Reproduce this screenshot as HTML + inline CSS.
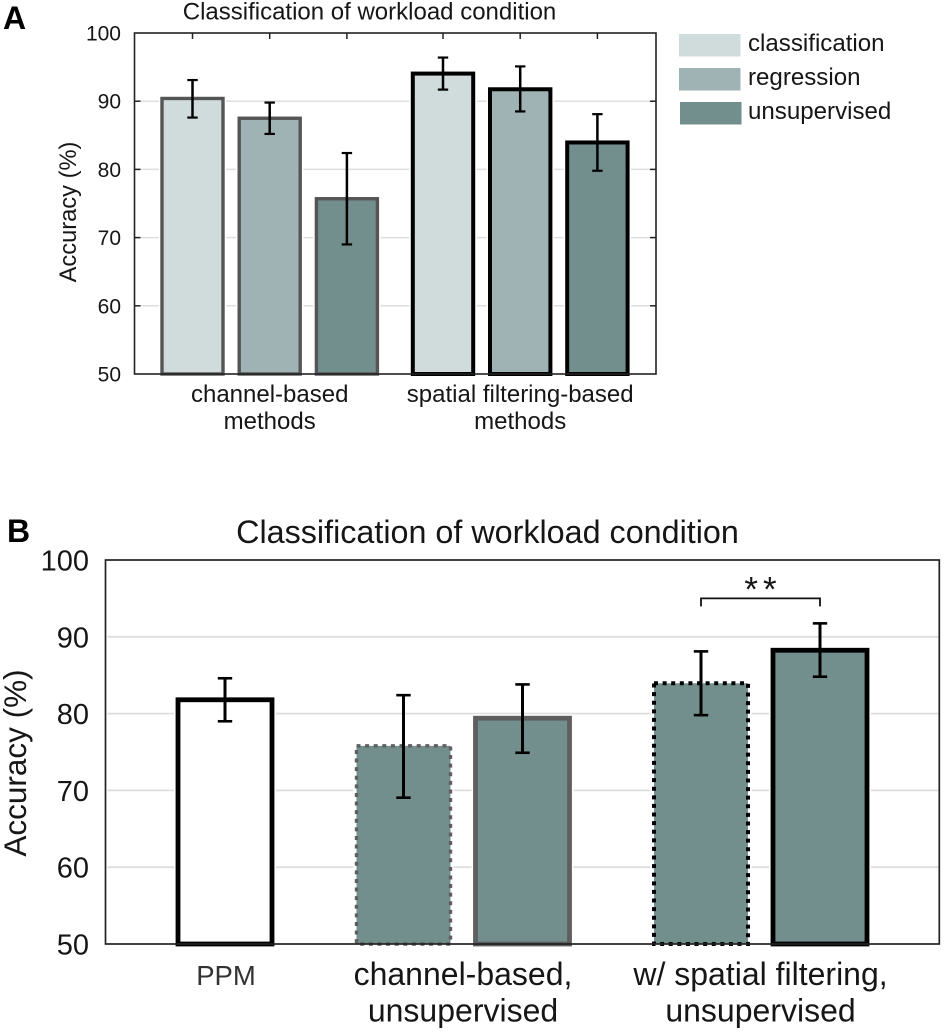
<!DOCTYPE html>
<html>
<head>
<meta charset="utf-8">
<title>Classification of workload condition</title>
<style>
html,body{margin:0;padding:0;background:#fff;width:945px;height:1034px;overflow:hidden}
svg{display:block}
text{font-family:"Liberation Sans",Arial,sans-serif;fill:#161616}
</style>
</head>
<body>
<svg id="figure" width="945" height="1034" viewBox="0 0 945 1034" xmlns="http://www.w3.org/2000/svg">
  <rect x="0" y="0" width="945" height="1034" fill="#fff"/>
  <text x="3" y="29" font-size="32" font-weight="bold" style="fill:#000">A</text>
  <text x="369.5" y="19.5" font-size="24" text-anchor="middle">Classification of workload condition</text>
  <text transform="translate(76,212) rotate(-90)" font-size="23.7" text-anchor="middle">Accuracy (%)</text>
  <text x="7" y="542" font-size="32" font-weight="bold" style="fill:#000">B</text>
  <text x="487.5" y="543" font-size="32.3" text-anchor="middle">Classification of workload condition</text>
  <text transform="translate(26,763) rotate(-90)" font-size="31.5" text-anchor="middle">Accuracy (%)</text>
  <g id="panel-a"></g>
  <g id="panel-b"></g>
  <g id="legend"></g>
</svg>
<script>
// ---- Panel A data ----
const aCategoryLines = [["channel-based", "methods"], ["spatial filtering-based", "methods"]];
const aSeriesNames = ["classification", "regression", "unsupervised"];
const aClassification = [90.4, 94.05];
const aRegression = [87.5, 91.75];
const aUnsupervised = [75.7, 83.95];
const aClassificationHigh = [93.1, 96.4];
const aClassificationLow = [87.6, 91.7];
const aRegressionHigh = [89.8, 95.1];
const aRegressionLow = [85.2, 88.5];
const aUnsupervisedHigh = [82.4, 88.1];
const aUnsupervisedLow = [69.0, 79.8];
const aTicks = [100, 90, 80, 70, 60, 50];

// ---- Panel B data ----
const bCategoryLines = [["PPM"], ["channel-based,", "unsupervised"], ["w/ spatial filtering,", "unsupervised"]];
const bBarCounts = [1, 2, 2];
const bValues = [81.8, 75.8, 79.4, 83.95, 88.25];
const bHigh = [84.6, 82.4, 83.8, 88.1, 91.75];
const bLow = [79.0, 69.05, 74.9, 79.8, 84.8];
const bTicks = [100, 90, 80, 70, 60, 50];
const bSignificance = "**";

const NS = "http://www.w3.org/2000/svg";
const LIGHT = "#cfdcdb", MID = "#a0b3b4", DARK = "#728f8e", GRID = "#dedede", AXIS = "#222";

function make(parent, tag, attrs, name) {
  const el = document.createElementNS(NS, tag);
  for (const k in attrs) el.setAttribute(k, attrs[k]);
  
  
  parent.appendChild(el);
  return el;
}
function line(parent, x1, y1, x2, y2, stroke, w, name) {
  return make(parent, "line", {x1, y1, x2, y2, stroke, "stroke-width": w}, name);
}
function label(parent, x, y, str, size, anchor, name, fill) {
  const el = make(parent, "text", {x, y, "font-size": size, "text-anchor": anchor}, name);
  if (fill) el.style.fill = fill;
  el.textContent = str;
  return el;
}

// ---- Panel A axes ----
const aLeft = 134.5, aRight = 656, aTop = 33, aBottom = 374;
function aY(v) { return aBottom - (v - 50) * (aBottom - aTop) / 50; }
function aX(cat, ser) { return 192.5 + cat * 250.5 + ser * 77.2; }

// ---- Panel B axes ----
const bLeft = 105.5, bRight = 939.3, bTop = 560, bBottom = 944;
function bY(v) { return bBottom - (v - 50) * (bBottom - bTop) / 50; }
function bUnits() {
  const out = [];
  let u = 0;
  bBarCounts.forEach(function (n) {
    for (let i = 0; i < n; i++) { out.push(u); u += 2; }
    u += 1;
  });
  return out;
}
function bX(i) { return 225 + bUnits()[i] * 59.5; }

function errorBar(parent, x, yHigh, yLow, cap, w, capW, name) {
  line(parent, x, yHigh, x, yLow, "#000", w, name + "-stem");
  line(parent, x - cap, yHigh, x + cap, yHigh, "#000", capW, name + "-cap-high");
  line(parent, x - cap, yLow, x + cap, yLow, "#000", capW, name + "-cap-low");
}

// ---- Draw panel A ----
(function () {
  const g = document.getElementById("panel-a");
  aTicks.forEach(function (t) {
    if (t !== 100 && t !== 50) line(g, aLeft, aY(t), aRight, aY(t), GRID, 1.5, "grid-line-" + t);
  });
  const seriesValues = [aClassification, aRegression, aUnsupervised];
  const seriesHigh = [aClassificationHigh, aRegressionHigh, aUnsupervisedHigh];
  const seriesLow = [aClassificationLow, aRegressionLow, aUnsupervisedLow];
  const fills = [LIGHT, MID, DARK];
  aCategoryLines.forEach(function (lines, c) {
    aSeriesNames.forEach(function (s, i) {
      const sw = c === 0 ? 3.4 : 4;
      const w = c === 0 ? 61 : 60.4;
      const x = aX(c, i), v = seriesValues[i][c];
      make(g, "rect", {x: x - w / 2, y: aY(v), width: w, height: aBottom - aY(v), fill: "none", stroke: "#fff", "stroke-width": sw + 3}, "bar-halo-" + c + "-" + s);
      make(g, "rect", {x: x - w / 2, y: aY(v), width: w, height: aBottom - aY(v), fill: fills[i], stroke: c === 0 ? "#555" : "#000", "stroke-width": sw}, "bar-" + c + "-" + s);
    });
  });
  make(g, "rect", {x: aLeft, y: aTop, width: aRight - aLeft, height: aBottom - aTop, fill: "none", stroke: AXIS, "stroke-width": 1.6}, "plot-frame");
  aTicks.forEach(function (t) {
    if (t !== 100 && t !== 50) {
      line(g, aLeft, aY(t), aLeft + 6, aY(t), AXIS, 1.5, "left-tick-" + t);
      line(g, aRight - 6, aY(t), aRight, aY(t), AXIS, 1.5, "right-tick-" + t);
    }
    label(g, 121, aY(t) + 7.5, String(t), 21, "end", "y-tick-label-" + t);
  });
  aCategoryLines.forEach(function (lines, c) {
    aSeriesNames.forEach(function (s, i) {
      const x = aX(c, i);
      line(g, x, aTop, x, aTop + 6, AXIS, 1.5, "top-tick-" + c + "-" + i);
      errorBar(g, x, aY(seriesHigh[i][c]), aY(seriesLow[i][c]), 5.2, 2.5, 2.2, "error-bar-" + c + "-" + s);
    });
    lines.forEach(function (t, j) {
      label(g, aX(c, 1), 402 + j * 27, t, 24, "middle", "x-category-label-" + c + "-" + j);
    });
  });
})();

// ---- Draw legend ----
(function () {
  const g = document.getElementById("legend");
  const fills = [LIGHT, MID, DARK];
  aSeriesNames.forEach(function (s, i) {
    make(g, "rect", {x: 679 + (i === 2 ? 1 : 0), y: 34 + i * 34, width: 61.5, height: 22.5, fill: fills[i]}, "legend-swatch-" + s);
    label(g, 748, 51 + i * 34, s, 24.1, "start", "legend-label-" + s);
  });
})();

// ---- Draw panel B ----
(function () {
  const g = document.getElementById("panel-b");
  bTicks.forEach(function (t) {
    if (t !== 100 && t !== 50) line(g, bLeft + 2, bY(t), bRight, bY(t), GRID, 1.8, "grid-line-" + t);
  });
  const barInfo = [];
  bBarCounts.forEach(function (n, grp) {
    for (let s = 0; s < n; s++) {
      barInfo.push({grp: grp, dotted: n === 2 && s === 0});
    }
  });
  bValues.forEach(function (v, i) {
    const info = barInfo[i];
    const x = bX(i);
    const color = info.grp === 1 ? "#5e5e5e" : "#000";
    const fill = info.grp === 0 ? "#fff" : DARK;
    const attrs = {y: bY(v), height: bBottom - bY(v), fill: fill, stroke: color};
    if (info.dotted) {
      attrs.x = x - 47;
      attrs.width = 94;
      attrs["stroke-width"] = info.grp === 1 ? 3.4 : 4;
      attrs["stroke-dasharray"] = "4 4.6";
    } else {
      attrs.x = x - 47;
      attrs.width = 94;
      attrs["stroke-width"] = 4.8;
    }
    make(g, "rect", {x: attrs.x, y: attrs.y, width: attrs.width, height: attrs.height, fill: "none", stroke: "#fff", "stroke-width": attrs["stroke-width"] + 3}, "bar-halo-" + i);
    make(g, "rect", attrs, "bar-" + i);
  });
  make(g, "rect", {x: bLeft, y: bTop, width: bRight - bLeft, height: bBottom - bTop, fill: "none", stroke: AXIS, "stroke-width": 1.7}, "plot-frame");
  bTicks.forEach(function (t) {
    label(g, 89, bY(t) + 10.5, String(t), 29, "end", "y-tick-label-" + t);
  });
  bValues.forEach(function (v, i) {
    errorBar(g, bX(i), bY(bHigh[i]), bY(bLow[i]), 7.2, 3, 2.6, "error-bar-" + i);
  });
  // significance bracket spans the last two bars
  const bx1 = bX(3), bx2 = bX(4), by = bY(Math.max(bHigh[3], bHigh[4]) + 3.25);
  make(g, "path", {d: "M" + bx1 + " " + (by + 8) + "V" + by + "H" + bx2 + "V" + (by + 8), fill: "none", stroke: "#111", "stroke-width": 1.8}, "significance-bracket");
  const stars = label(g, (bx1 + bx2) / 2 + 2.5, by + 3, bSignificance, 35, "middle", "significance-stars");
  stars.setAttribute("letter-spacing", "5");
  // category labels
  let i0 = 0;
  bCategoryLines.forEach(function (lines, c) {
    const n = bBarCounts[c];
    const cx = (bX(i0) + bX(i0 + n - 1)) / 2;
    i0 += n;
    lines.forEach(function (t, j) {
      const isPPM = lines.length === 1;
      label(g, cx + (isPPM ? 1 : 0), 985 + j * 36.5, t, isPPM ? 27.5 : 32, "middle", "x-category-label-" + c + "-" + j, isPPM ? "#333" : null);
    });
  });
})();
</script>
</body>
</html>
